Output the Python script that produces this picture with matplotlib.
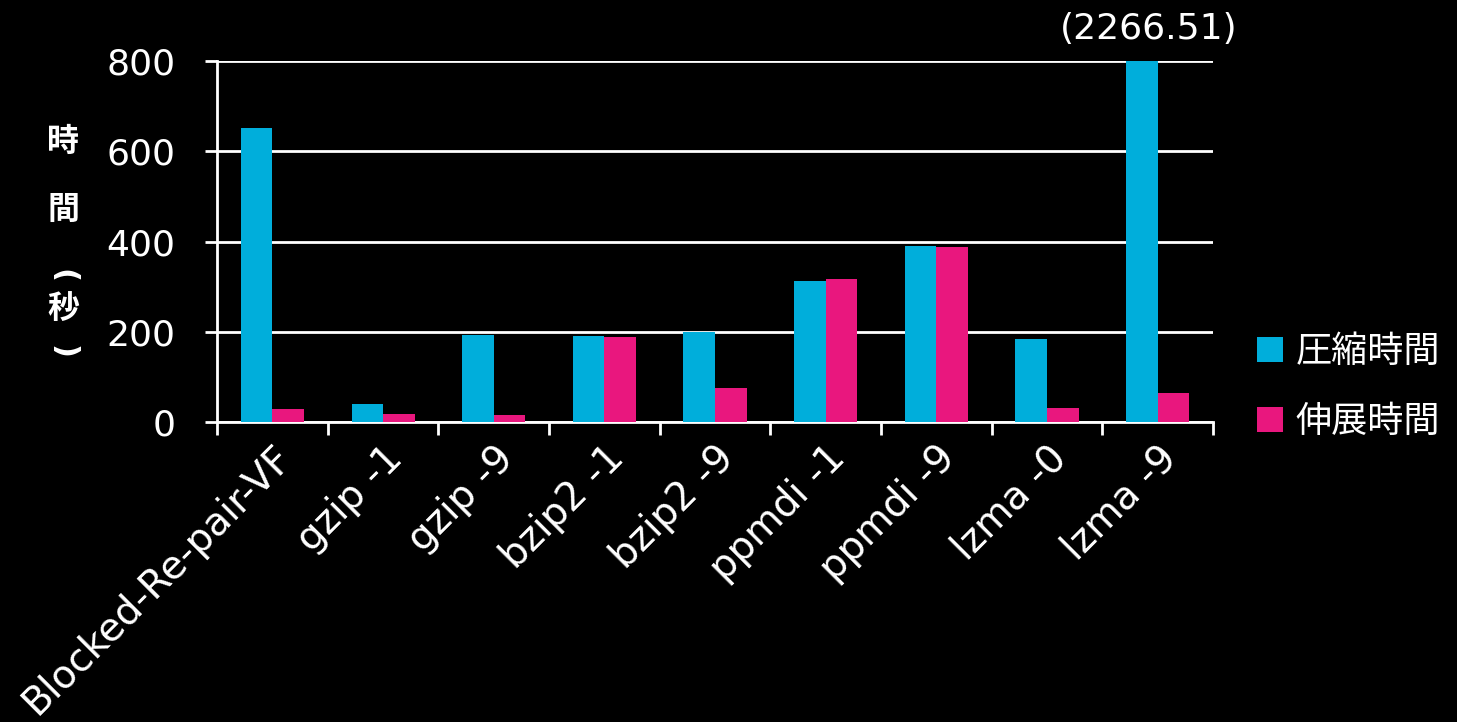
import numpy as np
import matplotlib
matplotlib.use("Agg")
import matplotlib.pyplot as plt
from matplotlib.ticker import FixedLocator

plt.rcParams["font.family"] = ["DejaVu Sans", "Noto Sans CJK JP"]

CYAN = "#00AEDB"
PINK = "#E9177E"
BG = "#000000"
FG = "#FFFFFF"
CJK = ["Noto Sans CJK JP", "DejaVu Sans"]

categories = ["Blocked-Re-pair-VF", "gzip -1", "gzip -9", "bzip2 -1", "bzip2 -9",
              "ppmdi -1", "ppmdi -9", "lzma -0", "lzma -9"]
compress_time = [652, 40, 192, 191, 200, 312, 391, 185, 2266.51]
decompress_time = [28, 18, 15, 188, 75, 316, 387, 32, 64]
series_names = ["圧縮時間", "伸展時間"]
y_ticks = [0, 200, 400, 600, 800]

fig = plt.figure(figsize=(14.57, 7.22), dpi=100)
fig.patch.set_facecolor(BG)
ax = fig.add_axes([0.149, 0.4155, 0.6835, 0.50])
ax.set_facecolor(BG)

x = np.arange(len(categories))
w = 0.285
ax.bar(x - w / 2, compress_time, w, color=CYAN, label=series_names[0], zorder=3)
ax.bar(x + w / 2, decompress_time, w, color=PINK, label=series_names[1], zorder=3)

ax.set_xlim(-0.5, len(categories) - 0.5)
ax.set_ylim(0, 800)
ax.set_yticks(y_ticks)
ax.yaxis.grid(True, color=FG, linewidth=2, zorder=0)
ax.set_axisbelow(True)

for s in ["top", "right"]:
    ax.spines[s].set_visible(False)
for s in ["left", "bottom"]:
    ax.spines[s].set_color(FG)
    ax.spines[s].set_linewidth(2)

ax.tick_params(axis="y", colors=FG, labelsize=26, length=9, width=2, pad=21)
ax.set_xticks(x)
ax.set_xticklabels(categories, rotation=45, ha="right", rotation_mode="anchor",
                   fontsize=28, color=FG)
ax.tick_params(axis="x", which="major", length=0, pad=12)
ax.xaxis.set_minor_locator(FixedLocator(np.arange(-0.5, len(categories), 1.0)))
ax.tick_params(axis="x", which="minor", length=9, width=2, color=FG)

# clipped value note for the last bar
ax.text(x[-1] - 0.08, 833, "(2266.51)", ha="center", va="bottom",
        fontsize=26, color=FG, clip_on=False)

# vertical y label: 時間（秒） stacked, parentheses turned sideways
ylab = [("時", 142, 0, CJK, 23), ("間", 210, 0, CJK, 23),
        ("(", 276, -90, ["DejaVu Sans"], 22), ("秒", 310, 0, CJK, 23),
        (")", 352, -90, ["DejaVu Sans"], 22)]
for ch, py, rot, fam, fs in ylab:
    fig.text(63 / 1457, 1 - py / 722, ch, ha="center", va="center",
             rotation=rot, fontsize=fs, fontweight="bold", color=FG, family=fam)

leg = ax.legend(loc="center left", bbox_to_anchor=(1.012, 0.097), frameon=False,
                labelcolor=FG, handlelength=0.7, handleheight=0.7,
                handletextpad=0.35, labelspacing=0.95,
                prop={"family": CJK, "size": 26})

fig.savefig("out.png", dpi=100, facecolor=BG)
plt.close(fig)
